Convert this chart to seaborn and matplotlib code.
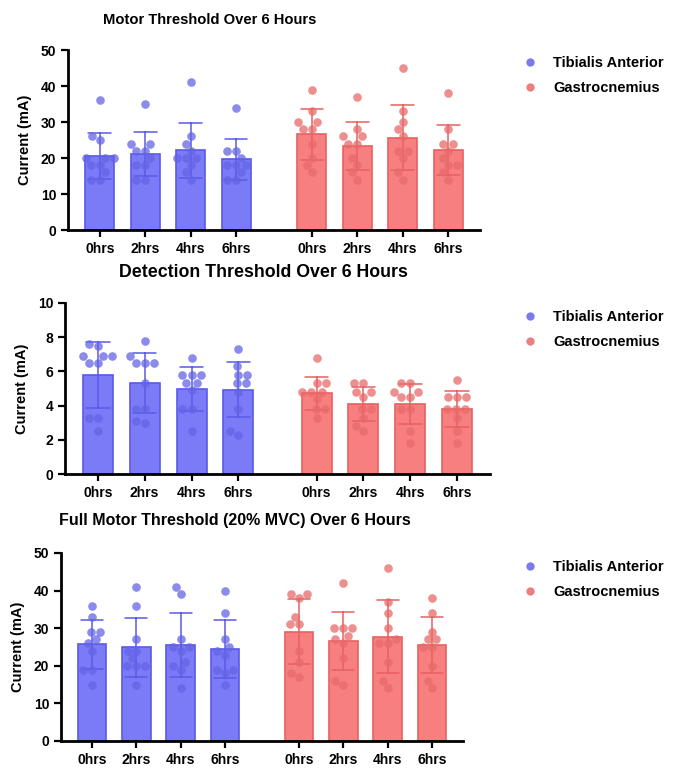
import matplotlib
matplotlib.use("Agg")
from matplotlib import pyplot as plt
from matplotlib.lines import Line2D
import seaborn as sns
import pandas as pd

# category labels
times = ["0hrs", "2hrs", "4hrs", "6hrs"]
muscles = ["Tibialis Anterior", "Gastrocnemius"]

# Motor threshold (mA), one list per time point
ta_motor = [[36, 26, 25, 20, 20, 20, 18, 18, 16, 14, 14],
            [35, 24, 24, 22, 22, 20, 18, 18, 14, 14],
            [41, 26, 24, 22, 20, 20, 20, 18, 16, 14],
            [34, 22, 22, 20, 18, 18, 18, 16, 14, 14]]
ga_motor = [[39, 33, 30, 30, 28, 28, 24, 20, 18, 16],
            [37, 28, 26, 26, 24, 24, 20, 18, 16, 14],
            [45, 33, 30, 28, 26, 22, 22, 20, 16, 14],
            [38, 28, 24, 24, 22, 20, 18, 18, 16, 14]]

# Detection threshold (mA)
ta_detect = [[7.6, 7.5, 6.9, 6.9, 6.9, 6.5, 6.5, 3.3, 3.3, 2.5],
             [7.8, 6.9, 6.5, 6.5, 6.5, 5.3, 3.8, 3.8, 3.0, 3.1],
             [6.8, 5.8, 5.8, 5.8, 5.3, 5.3, 4.9, 3.8, 3.8, 2.5],
             [7.3, 6.3, 5.8, 5.8, 5.3, 5.3, 4.8, 3.8, 2.5, 2.3]]
ga_detect = [[6.8, 5.3, 5.3, 4.8, 4.8, 4.8, 4.4, 3.8, 3.8, 3.3],
             [5.3, 5.3, 4.8, 4.8, 4.5, 3.8, 3.8, 3.3, 2.8, 2.5],
             [5.3, 5.3, 4.8, 4.8, 4.5, 4.5, 3.8, 3.8, 2.5, 1.8],
             [5.5, 4.5, 4.5, 4.5, 3.8, 3.8, 3.8, 3.3, 2.5, 1.8]]

# Full motor threshold, 20% MVC (mA)
ta_full = [[36, 33, 29, 29, 27, 26, 24, 19, 19, 15],
           [41, 36, 27, 24, 24, 22, 20, 20, 20, 15],
           [41, 39, 27, 25, 25, 24, 21, 20, 19, 14],
           [40, 34, 27, 25, 24, 23, 19, 19, 18, 15]]
ga_full = [[39, 39, 38, 33, 31, 31, 24, 21, 18, 17],
           [42, 30, 30, 30, 28, 27, 26, 22, 16, 15],
           [46, 37, 34, 30, 27, 26, 26, 21, 16, 14],
           [38, 34, 29, 27, 27, 25, 25, 20, 16, 14]]

titles = ["Motor Threshold Over 6 Hours",
          "Detection Threshold Over 6 Hours",
          "Full Motor Threshold (20% MVC) Over 6 Hours"]
ymax = [50, 10, 50]
ystep = [10, 2, 10]

bar_colors = ["#7b7bf7", "#f77f7f"]
edge_colors = ["#5a5ae8", "#e86060"]
dot_colors = ["#6464e6", "#e86a6a"]
group_gap = 4.67  # x offset of second muscle group


def to_frame(ta, ga):
    rows = []
    for m, vals in enumerate([ta, ga]):
        for t, pts in enumerate(vals):
            for v in pts:
                rows.append({"muscle": muscles[m], "pos": t + m * group_gap, "value": v})
    return pd.DataFrame(rows)


sns.set_style("white")
plt.rcParams["font.family"] = ["Liberation Sans", "DejaVu Sans"]
plt.rcParams["font.weight"] = "bold"
plt.rcParams["text.color"] = "black"
plt.rcParams["axes.labelcolor"] = "black"

fig = plt.figure(figsize=(6.78, 7.68), dpi=100)
W, H = 678, 768
# axes boxes in pixels: left, top, right, bottom
boxes = [(68, 50, 480, 230), (65, 303, 490, 474), (61, 553, 463, 741)]
title_pos = [(210, 20), (263, 272), (235, 520)]
title_size = [10.6, 12.8, 11.5]
legend_pos = [(502, 43), (502, 297), (502, 547)]

panels = [(ta_motor, ga_motor), (ta_detect, ga_detect), (ta_full, ga_full)]

for i, (ta, ga) in enumerate(panels):
    l, t, r, b = boxes[i]
    ax = fig.add_axes([l / W, 1 - b / H, (r - l) / W, (b - t) / H])
    df = to_frame(ta, ga)
    for m, name in enumerate(muscles):
        sub = df[df["muscle"] == name]
        sns.barplot(data=sub, x="pos", y="value", native_scale=True, ax=ax,
                    color=bar_colors[m], width=0.64, errorbar="sd", capsize=0.5,
                    saturation=1, edgecolor=edge_colors[m], linewidth=1.2,
                    err_kws={"color": edge_colors[m], "linewidth": 1.1})
        sns.swarmplot(data=sub, x="pos", y="value", native_scale=True, ax=ax,
                      color=dot_colors[m], size=6.2, alpha=0.75, linewidth=0,
                      warn_thresh=1)
    ax.set_xlim(-0.7, 3 + group_gap + 0.7)
    ax.set_ylim(0, ymax[i])
    ax.set_yticks(range(0, ymax[i] + 1, ystep[i]))
    ax.set_xticks([t + m * group_gap for m in range(2) for t in range(4)])
    ax.set_xticklabels(times * 2)
    ax.set_xlabel("")
    ax.set_ylabel("Current (mA)", fontsize=10.5, fontweight="bold", labelpad=6)
    sns.despine(ax=ax)
    for s in ["left", "bottom"]:
        ax.spines[s].set_linewidth(2)
        ax.spines[s].set_color("black")
    ax.tick_params(axis="both", direction="out", length=5, width=1.6,
                   labelsize=10, colors="black", left=True, bottom=True)
    for lab in ax.get_xticklabels() + ax.get_yticklabels():
        lab.set_fontweight("bold")

    tx, ty = title_pos[i]
    fig.text(tx / W, 1 - ty / H, titles[i], ha="center", va="center",
             fontsize=title_size[i], fontweight="bold", color="black")

    handles = [Line2D([], [], marker="o", linestyle="", markersize=6,
                      markerfacecolor=dot_colors[m], markeredgewidth=0, alpha=0.85)
               for m in range(2)]
    lx, ly = legend_pos[i]
    fig.legend(handles, muscles, loc="upper left",
               bbox_to_anchor=(lx / W, 1 - ly / H), frameon=False,
               prop={"weight": "bold", "size": 10.5}, handletextpad=0.6,
               labelspacing=0.75)

fig.savefig("out.png", dpi=100)
